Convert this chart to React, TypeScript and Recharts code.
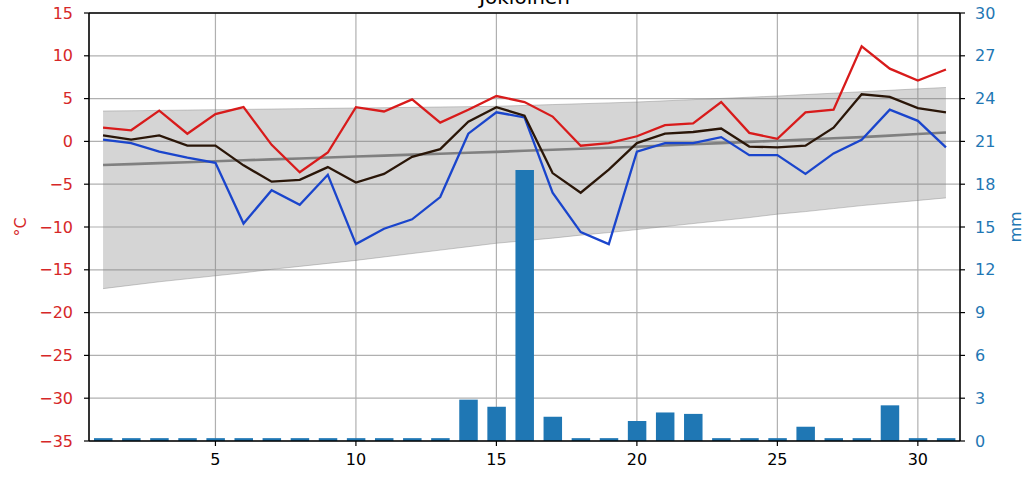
import React from "react";
import {
  ComposedChart,
  Line,
  Area,
  Bar,
  XAxis,
  YAxis,
  CartesianGrid,
  ReferenceLine,
} from "recharts";

// day of month
const days = [
  1, 2, 3, 4, 5, 6, 7, 8, 9, 10, 11, 12, 13, 14, 15, 16,
  17, 18, 19, 20, 21, 22, 23, 24, 25, 26, 27, 28, 29, 30, 31,
];

// daily max / mean / min temperature (°C)
const tMax = [
  1.6, 1.3, 3.6, 0.9, 3.2, 4.0, -0.4, -3.6, -1.3, 4.0, 3.5, 4.9, 2.2, 3.7, 5.3, 4.6,
  2.9, -0.5, -0.2, 0.6, 1.9, 2.1, 4.6, 1.0, 0.3, 3.4, 3.7, 11.1, 8.5, 7.1, 8.4,
];
const tMean = [
  0.7, 0.2, 0.7, -0.5, -0.5, -2.8, -4.7, -4.5, -3.0, -4.8, -3.8, -1.8, -0.9, 2.3, 4.0, 3.0,
  -3.7, -6.0, -3.3, -0.2, 0.9, 1.1, 1.5, -0.6, -0.7, -0.5, 1.6, 5.5, 5.2, 3.9, 3.4,
];
const tMin = [
  0.2, -0.2, -1.2, -1.9, -2.5, -9.6, -5.7, -7.4, -3.9, -12.0, -10.2, -9.1, -6.5, 0.9, 3.4, 2.8,
  -6.0, -10.6, -12.0, -1.2, -0.2, -0.2, 0.5, -1.6, -1.6, -3.8, -1.4, 0.2, 3.7, 2.4, -0.7,
];

// long-term normal and its range
const tNormal = [
  -2.76, -2.65, -2.54, -2.43, -2.32, -2.21, -2.1, -1.99, -1.88, -1.77, -1.66, -1.55, -1.44, -1.33, -1.22, -1.1,
  -0.98, -0.86, -0.74, -0.62, -0.48, -0.34, -0.2, -0.06, 0.08, 0.22, 0.36, 0.5, 0.68, 0.86, 1.04,
];
const bandHigh = [
  3.55, 3.58, 3.62, 3.66, 3.7, 3.74, 3.78, 3.82, 3.86, 3.9, 3.94, 3.98, 4.02, 4.06, 4.1, 4.2,
  4.3, 4.4, 4.5, 4.6, 4.74, 4.88, 5.02, 5.16, 5.3, 5.47, 5.63, 5.8, 5.97, 6.14, 6.3,
];
const bandLow = [
  -17.2, -16.8, -16.4, -16.05, -15.7, -15.35, -14.95, -14.6, -14.25, -13.9, -13.5, -13.1, -12.7, -12.3, -11.9, -11.6,
  -11.3, -10.95, -10.65, -10.3, -9.95, -9.6, -9.25, -8.9, -8.5, -8.2, -7.85, -7.5, -7.2, -6.9, -6.6,
];

// daily precipitation (mm)
const precip = [
  0.2, 0.2, 0.2, 0.2, 0.2, 0.2, 0.2, 0.2, 0.2, 0.2, 0.2, 0.2, 0.2, 2.9, 2.4, 19.0,
  1.7, 0.2, 0.2, 1.4, 2.0, 1.9, 0.2, 0.2, 0.2, 1.0, 0.2, 0.2, 2.5, 0.2, 0.2,
];

const xTicks = [5, 10, 15, 20, 25, 30];
const tTicks = [-35, -30, -25, -20, -15, -10, -5, 0, 5, 10, 15];
const pTicks = [0, 3, 6, 9, 12, 15, 18, 21, 24, 27, 30];

const title = "Jokioinen";

const FONT = "'DejaVu Sans', sans-serif";
const RED = "#d62728";
const BLUE = "#1f77b4";

const fmt = (v: number) => (v < 0 ? "\u2212" + Math.abs(v) : String(v));

const data = days.map((d, i) => ({
  day: d,
  max: tMax[i],
  mean: tMean[i],
  min: tMin[i],
  normal: tNormal[i],
  band: [bandLow[i], bandHigh[i]],
  rain: precip[i],
}));

export default function App() {
  return (
    <div style={{ position: "absolute", left: 0, top: 0, width: 1034, height: 484, background: "#fff" }}>
      <ComposedChart
        width={1034}
        height={484}
        data={data}
        margin={{ top: 13, right: 0, bottom: 0, left: 0 }}
      >
        <CartesianGrid
          yAxisId="t"
          stroke="#b0b0b0"
          strokeWidth={1.2}
          horizontalValues={tTicks}
          verticalValues={xTicks}
        />
        <XAxis
          dataKey="day"
          type="number"
          domain={[0.5, 31.5]}
          ticks={xTicks}
          allowDataOverflow
          height={43}
          tickSize={5}
          tickMargin={8}
          tick={{ fontFamily: FONT, fontSize: 16, fill: "#000" }}
          axisLine={{ stroke: "#000", strokeWidth: 1.6 }}
          tickLine={{ stroke: "#000", strokeWidth: 1.2 }}
        />
        <YAxis
          yAxisId="t"
          orientation="left"
          type="number"
          domain={[-35, 15]}
          ticks={tTicks}
          allowDataOverflow
          width={89}
          tickSize={5}
          tickMargin={11}
          tickFormatter={fmt}
          tick={{ fontFamily: FONT, fontSize: 16, fill: RED }}
          axisLine={{ stroke: "#000", strokeWidth: 1.6 }}
          tickLine={{ stroke: "#000", strokeWidth: 1.2 }}
        />
        <YAxis
          yAxisId="p"
          orientation="right"
          type="number"
          domain={[0, 30]}
          ticks={pTicks}
          allowDataOverflow
          width={74}
          tickSize={5}
          tickMargin={10}
          tick={{ fontFamily: FONT, fontSize: 16, fill: BLUE, textAnchor: "start" }}
          axisLine={{ stroke: "#000", strokeWidth: 1.6 }}
          tickLine={{ stroke: "#000", strokeWidth: 1.2 }}
        />
        <ReferenceLine yAxisId="t" y={15} stroke="#000" strokeWidth={1.6} />
        <Area
          yAxisId="t"
          dataKey="band"
          type="linear"
          fill="#808080"
          fillOpacity={0.33}
          stroke="#808080"
          strokeOpacity={0.4}
          strokeWidth={1}
          isAnimationActive={false}
          dot={false}
          activeDot={false}
        />
        <Line
          yAxisId="t"
          dataKey="normal"
          type="linear"
          stroke="#808080"
          strokeWidth={2.6}
          dot={false}
          activeDot={false}
          isAnimationActive={false}
        />
        <Line
          yAxisId="t"
          dataKey="max"
          type="linear"
          stroke="#d81b1b"
          strokeWidth={2.3}
          dot={false}
          activeDot={false}
          isAnimationActive={false}
        />
        <Line
          yAxisId="t"
          dataKey="min"
          type="linear"
          stroke="#1a45cc"
          strokeWidth={2.3}
          dot={false}
          activeDot={false}
          isAnimationActive={false}
        />
        <Line
          yAxisId="t"
          dataKey="mean"
          type="linear"
          stroke="#2a1608"
          strokeWidth={2.3}
          dot={false}
          activeDot={false}
          isAnimationActive={false}
        />
        <Bar
          yAxisId="p"
          dataKey="rain"
          fill={BLUE}
          barSize={18.5}
          isAnimationActive={false}
        />
      </ComposedChart>
      <svg
        width={1034}
        height={484}
        style={{ position: "absolute", left: 0, top: 0, pointerEvents: "none" }}
      >
        <text x={524.5} y={4} textAnchor="middle" fontFamily={FONT} fontSize={20} fill="#000">
          {title}
        </text>
        <text
          x={0}
          y={0}
          transform="translate(26,227) rotate(-90)"
          textAnchor="middle"
          fontFamily={FONT}
          fontSize={16}
          fill={RED}
        >
          °C
        </text>
        <text
          x={0}
          y={0}
          transform="translate(1021,227) rotate(-90)"
          textAnchor="middle"
          fontFamily={FONT}
          fontSize={16}
          fill={BLUE}
        >
          mm
        </text>
      </svg>
    </div>
  );
}
